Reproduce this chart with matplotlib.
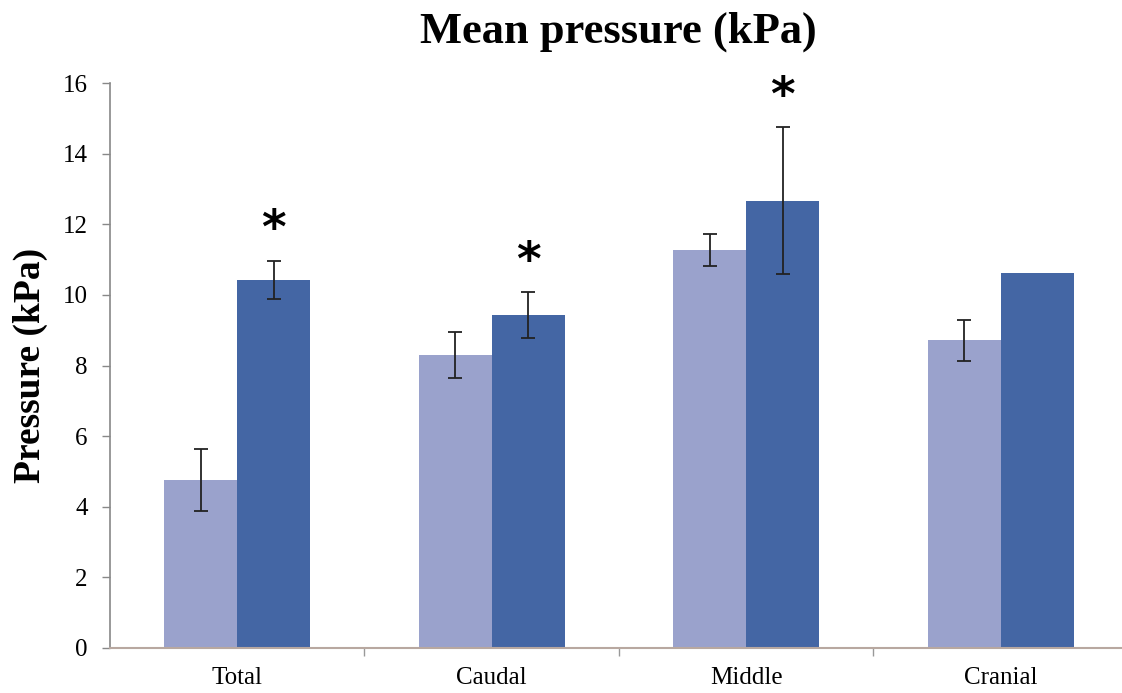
import numpy as np
import matplotlib.pyplot as plt

categories = ['Total', 'Caudal', 'Middle', 'Cranial']
light_vals = [4.76, 8.30, 11.27, 8.72]
light_err = [0.88, 0.65, 0.45, 0.58]
dark_vals = [10.42, 9.43, 12.67, 10.61]
dark_err = [0.54, 0.645, 2.08, 0.0]
significant = [True, True, True, False]

plt.rcParams['font.family'] = ['Liberation Serif', 'DejaVu Serif']

fig = plt.figure(figsize=(11.22, 6.93), dpi=100)
ax = fig.add_axes([110 / 1122, 45 / 693, 1012 / 1122, 565 / 693])

x = np.arange(len(categories))
w = 0.287
light_c = '#9aa2cc'
dark_c = '#4466a4'

ax.bar(x - w / 2, light_vals, w, color=light_c)
ax.bar(x + w / 2, dark_vals, w, color=dark_c)

# error bars (cranial dark has none)
ax.errorbar(x - w / 2, light_vals, yerr=light_err, fmt='none', ecolor='#222222',
            elinewidth=1.3, capsize=5, capthick=1.3)
dx = [xi + w / 2 for xi, e in zip(x, dark_err) if e > 0]
dv = [v for v, e in zip(dark_vals, dark_err) if e > 0]
de = [e for e in dark_err if e > 0]
ax.errorbar(dx, dv, yerr=de, fmt='none', ecolor='#222222',
            elinewidth=1.3, capsize=5, capthick=1.3)

for xi, v, e, s in zip(x, dark_vals, dark_err, significant):
    if s:
        ax.text(xi + w / 2, v + e + 0.85, '*', ha='center', va='center',
                fontsize=34, fontweight='bold', family='DejaVu Sans')

ax.set_xlim(-0.5, 3.477)
ax.set_ylim(0, 16)
ax.set_yticks(np.arange(0, 17, 2))
ax.set_xticks(x)
ax.set_xticklabels(categories)
ax.set_xticks(np.arange(0.5, 3.5, 1), minor=True)
ax.tick_params(axis='x', which='major', length=0, labelsize=18, pad=14)
ax.tick_params(axis='x', which='minor', length=6, color='#999999', width=1)
ax.tick_params(axis='y', length=6, color='#888888', width=1, labelsize=18, pad=10)

for s in ['top', 'right']:
    ax.spines[s].set_visible(False)
ax.spines['left'].set_color('#888888')
ax.spines['left'].set_linewidth(1.2)
ax.spines['bottom'].set_color('#b8a8a0')
ax.spines['bottom'].set_linewidth(1.5)

fig.text(618 / 1122, 1 - 32 / 693, 'Mean pressure (kPa)', ha='center', va='center',
         fontsize=32, fontweight='bold')
fig.text(30 / 1122, 1 - 365 / 693, 'Pressure (kPa)', ha='center', va='center',
         rotation=90, fontsize=27, fontweight='bold')

plt.savefig('out.png', dpi=100)
